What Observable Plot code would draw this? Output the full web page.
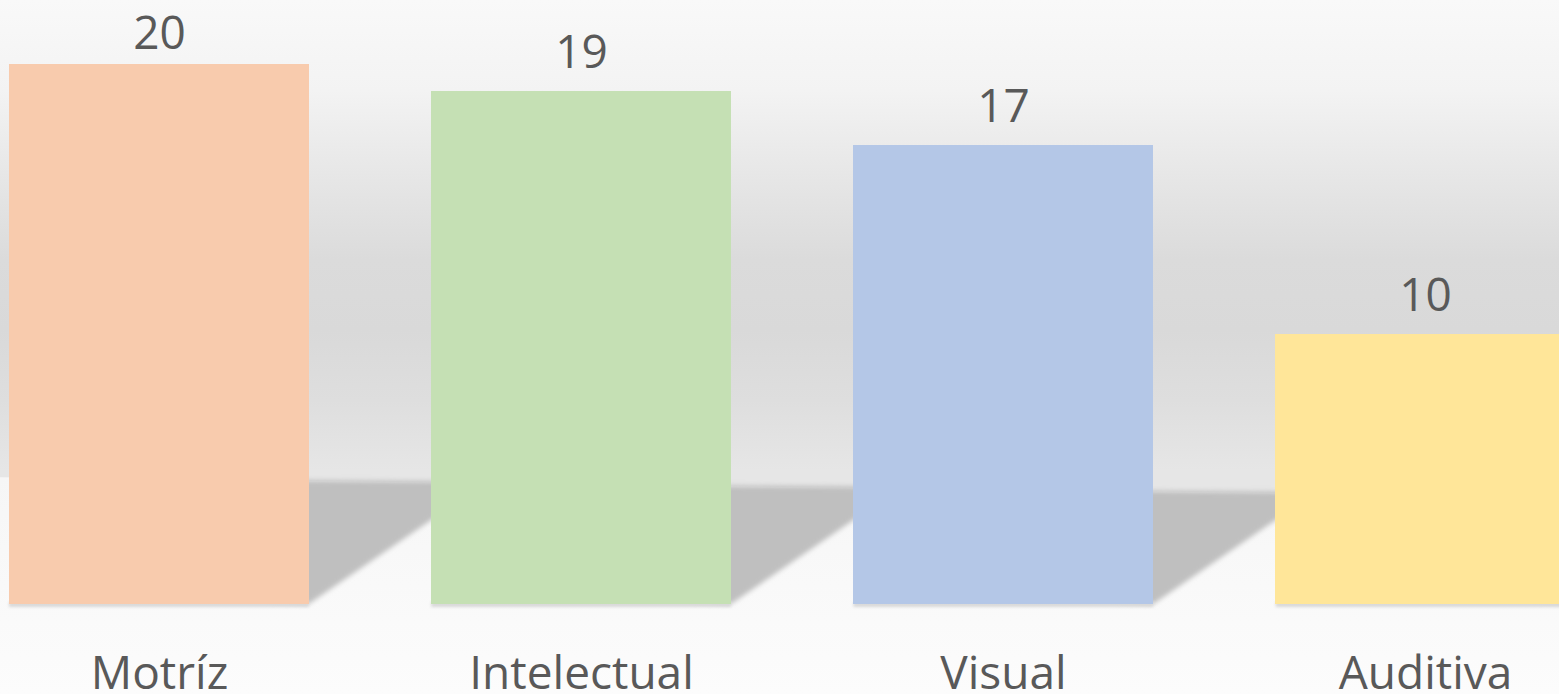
<!DOCTYPE html>
<html>
<head>
<meta charset="utf-8">
<script src="https://cdn.jsdelivr.net/npm/d3@7"></script>
<script src="https://cdn.jsdelivr.net/npm/@observablehq/plot@0.6"></script>
<style>
  html, body { margin: 0; padding: 0; overflow: hidden; background: #fafafa; }
  #chart svg { display: block; }
</style>
</head>
<body>
<div id="chart"></div>
<script>
const categories = ["Motríz", "Intelectual", "Visual", "Auditiva"];
const values = [20, 19, 17, 10];
const colors = ["#f8cbad", "#c5e0b4", "#b4c7e7", "#ffe699"];

const data = categories.map((c, i) => ({cat: c, value: values[i]}));

const W = 1559, H = 694;
const xRange = [-113.5, 1698];
const yRange = [604, 64];
const pad = 0.29;

const xs = d3.scaleBand().domain(categories).range(xRange).padding(pad);
const ys = d3.scaleLinear().domain([0, 20]).range(yRange);

// labels whose normal position would run off the top are pinned to the top edge
const fits = d => ys(d.value) - 24 - 35 >= 13;

const plot = Plot.plot({
  width: W,
  height: H,
  margin: 0,
  style: {
    background: "linear-gradient(to bottom, #f9f9f9 0px, #f3f3f3 90px, #e6e6e6 180px, #dbdbdb 260px, #d9d9d9 330px, #dedede 400px, #e6e6e6 470px, #e6e6e6 500px)",
    overflow: "hidden",
    fontFamily: "'Open Sans', sans-serif",
    maxWidth: "none"
  },
  x: {domain: categories, range: xRange, padding: pad, axis: null},
  y: {domain: [0, 20], range: yRange, axis: null},
  color: {domain: categories, range: colors},
  marks: [
    Plot.barY(data, {x: "cat", y: "value", fill: "cat"}),
    Plot.text(data.filter(fits), {x: "cat", y: "value", text: d => String(d.value), dy: -24, lineAnchor: "bottom", fontSize: 46, fill: "#595959"}),
    Plot.text(data.filter(d => !fits(d)), {x: "cat", text: d => String(d.value), frameAnchor: "top", dy: 48, lineAnchor: "bottom", fontSize: 46, fill: "#595959"}),
    Plot.text(data, {x: "cat", text: "cat", frameAnchor: "bottom", dy: -6, lineAnchor: "bottom", fontSize: 46, fill: "#595959"})
  ]
});
document.getElementById("chart").appendChild(plot);

// Decorative floor & shadows, derived from the same scales
const svg = d3.select(plot);
const defs = svg.insert("defs", ":first-child");
defs.append("filter").attr("id", "blurS").attr("x", "-20%").attr("y", "-20%").attr("width", "140%").attr("height", "140%")
  .append("feGaussianBlur").attr("stdDeviation", 2.6);
defs.append("filter").attr("id", "blurB").attr("x", "-5%").attr("y", "-100%").attr("width", "110%").attr("height", "300%")
  .append("feGaussianBlur").attr("stdDeviation", 1.5);
const fg = defs.append("linearGradient").attr("id", "floorGrad").attr("x1", 0).attr("y1", 0).attr("x2", 0).attr("y2", 1);
fg.append("stop").attr("offset", "0%").attr("stop-color", "#f6f6f6");
fg.append("stop").attr("offset", "100%").attr("stop-color", "#fcfcfc");

const base = ys(0);
const horizon = x => base - 123 + (x - 310) * 0.0125;
const g = svg.insert("g", "defs + *");

g.append("polygon")
  .attr("points", [[0, horizon(0)], [W, horizon(W)], [W, H], [0, H]].map(p => p.join(",")).join(" "))
  .attr("fill", "url(#floorGrad)");

const bw = xs.bandwidth(), step = xs.step(), gap = step - bw;
categories.forEach(c => {
  const xR = xs(c) + bw;
  const xN = xR + gap;
  const slope = 84 / gap;
  const pts = [
    [xR - 40, horizon(xR) - 1],
    [xN + 40, horizon(xN) - 1],
    [xN + 40, base - 84 - 40 * slope],
    [xR, base],
    [xR - 40, base - 3]
  ];
  g.append("polygon")
    .attr("points", pts.map(p => p.join(",")).join(" "))
    .attr("fill", "#bfbfbf")
    .attr("filter", "url(#blurS)");
  g.append("rect")
    .attr("x", xs(c)).attr("y", base - 2).attr("width", bw).attr("height", 5)
    .attr("fill", "#d8d8d8").attr("filter", "url(#blurB)");
});
</script>
</body>
</html>
